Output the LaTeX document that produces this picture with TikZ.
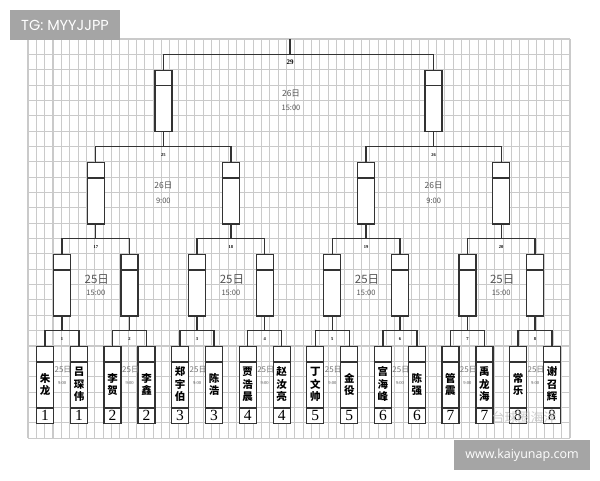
\documentclass[tikz,border=0pt]{standalone}
\usepackage{fontspec}
\setmainfont{Liberation Serif}
\newfontfamily\cjk{Noto Sans CJK SC}
\newfontfamily\wmfont{Open Sans}
\newfontfamily\tgfont{Poppins}
\definecolor{linec}{HTML}{333333}
\definecolor{gridc}{HTML}{CACACA}
\definecolor{datec}{HTML}{555555}
\definecolor{wmgray}{HTML}{A5A5A5}
\begin{document}
\begin{tikzpicture}[x=1pt,y=-1pt,
  lw/.style={line width=1.35pt, draw=linec},
  gl/.style={line width=1.05pt, draw=gridc},
  box/.style={lw, fill=white, minimum width=17pt, minimum height=61.4pt, inner sep=0pt, anchor=north,
    path picture={\draw[lw] ([yshift=-15.35pt]path picture bounding box.north west) -- ([yshift=-15.35pt]path picture bounding box.north east);}},
  pbox/.style={lw, fill=white, minimum width=17pt, minimum height=76.75pt, inner sep=0pt, anchor=north,
    path picture={\draw[lw] ([yshift=-15.35pt]path picture bounding box.north west) -- ([yshift=-15.35pt]path picture bounding box.north east);
      \draw[lw] ([yshift=15.35pt]path picture bounding box.south west) -- ([yshift=15.35pt]path picture bounding box.south east);}},
  pname/.style={inner sep=0pt, align=center, text=black, font=\cjk\bfseries\fontsize{10.5}{12.5}\selectfont},
  pnum/.style={inner sep=0pt, text=black, font=\fontsize{15.5}{15}\selectfont},
  mno/.style={inner sep=0pt, text=black, font=\bfseries\fontsize{4.5}{5}\selectfont},
  bigno/.style={inner sep=0pt, text=black, font=\bfseries\fontsize{7}{7}\selectfont},
  pday/.style={inner sep=0pt, text=datec!80, font=\cjk\fontsize{8}{8}\selectfont},
  ptime/.style={inner sep=0pt, text=datec, font=\fontsize{4.5}{5}\selectfont},
  qday/.style={inner sep=0pt, text=datec, font=\cjk\fontsize{11.5}{12}\selectfont},
  qtime/.style={inner sep=0pt, text=datec, font=\cjk\fontsize{7.5}{8}\selectfont},
  sday/.style={inner sep=0pt, text=datec, font=\cjk\fontsize{8.5}{9}\selectfont},
  stime/.style={inner sep=0pt, text=datec, font=\cjk\fontsize{7.5}{8}\selectfont},
  wm/.style={fill=wmgray, inner sep=0pt, text=white}
]
\useasboundingbox (0,0) rectangle (600,480);
\fill[white] (0,0) rectangle (600,480);
% grid
\foreach \i in {0,...,65} \draw[gl] ({28+8.338*\i},39) -- ({28+8.338*\i},438.1);
\foreach \j in {0,...,26} \draw[gl] (28,{39+15.35*\j}) -- (570,{39+15.35*\j});

% first round pairs
\foreach \k/\c/\na/\nb in {
  1/62.0/{朱\\龙}/{吕\\琛\\伟},
  2/129.6/{李\\贺}/{李\\鑫},
  3/197.1/{郑\\宇\\伯}/{陈\\浩},
  4/264.7/{贾\\浩\\晨}/{赵\\汝\\亮},
  5/332.3/{丁\\文\\帅}/{金\\役},
  6/399.9/{宫\\海\\峰}/{陈\\强},
  7/467.4/{管\\震}/{禹\\龙\\海},
  8/535.0/{常\\乐}/{谢\\召\\辉}}{
  \node[pbox] (pa\k) at ({\c-17},346) {};
  \node[pbox] (pb\k) at ({\c+17},346) {};
  \node[pname] (na\k) at ({\c-17},384.4) {\na};
  \node[pname] (nb\k) at ({\c+17},384.4) {\nb};
  \node[pnum] (ma\k) at ({\c-17},415.4) {\k};
  \node[pnum] (mb\k) at ({\c+17},415.4) {\k};
  \node[mno] (lm\k) at (\c,338.8) {\k};
  \node[pday] (pd\k) at ({\c+1},370) {25日};
  \node[ptime] (pt\k) at (\c,383.5) {9:00};
  \node[box] (q\k) at (\c,253.9) {};
  \coordinate (j\k) at (\c,330.65);
  \draw[lw] (pa\k.north) |- (j\k) -| (pb\k.north);
  \draw[lw] (j\k) -- (q\k.south);
}

% second round groups
\foreach \m/\g/\lab in {1/95.8/17, 2/230.9/18, 3/366.1/19, 4/501.2/20}{
  \pgfmathtruncatemacro{\ka}{2*\m-1}
  \pgfmathtruncatemacro{\kb}{2*\m}
  \node[box] (s\m) at (\g,161.8) {};
  \coordinate (h\m) at (\g,238.55);
  \node[mno] (lh\m) at (\g,246.6) {\lab};
  \node[qday] (qd\m) at ({\g+1},279.3) {25日};
  \node[qtime] (qt\m) at (\g,293.3) {15:00};
  \draw[lw] (q\ka.north) |- (h\m) -| (q\kb.north);
  \draw[lw] (h\m) -- (s\m.south);
}

% semifinal groups
\foreach \n/\g/\lab in {1/163.35/25, 2/433.65/26}{
  \pgfmathtruncatemacro{\ma}{2*\n-1}
  \pgfmathtruncatemacro{\mb}{2*\n}
  \node[box] (e\n) at (\g,69.7) {};
  \coordinate (f\n) at (\g,146.45);
  \node[mno] (lf\n) at (\g,155.5) {\lab};
  \node[sday] (sd\n) at (\g,186) {26日};
  \node[stime] (st\n) at (\g,201) {9:00};
  \draw[lw] (s\ma.north) |- (f\n) -| (s\mb.north);
  \draw[lw] (f\n) -- (e\n.south);
}

% final
\coordinate (fin) at (290,54.35);
\coordinate (top) at (290,39);
\node[bigno] (l29) at (290,62.5) {29};
\node[sday] (fd) at (291,94) {26日};
\node[stime] (ft) at (291,108) {15:00};
\draw[lw] (e1.north) |- (fin) -| (e2.north);
\draw[lw] (fin) -- (top);

% overlays
\node[text=gray!50, opacity=0.8, inner sep=0pt, font=\cjk\fontsize{13}{13}\selectfont] (wx) at (524,418) {台球圈海洋};
\node[wm, minimum width=110pt, minimum height=30pt, font=\tgfont\fontsize{14.5}{15}\selectfont] (tg) at (65,25) {TG: MYYJJPP};
\node[wm, minimum width=136pt, minimum height=30pt, font=\wmfont\fontsize{12.5}{13}\selectfont] (url) at (522,455) {www.kaiyunap.com};
\end{tikzpicture}
\end{document}
